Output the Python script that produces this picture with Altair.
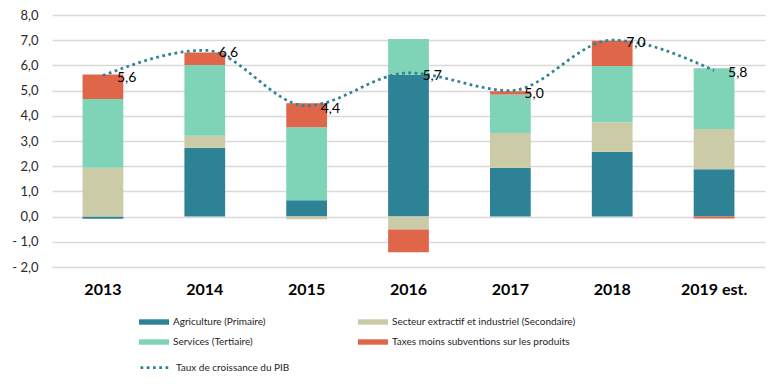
import altair as alt
import pandas as pd

years = ["2013", "2014", "2015", "2016", "2017", "2018", "2019 est."]
sectors = [
    "Agriculture (Primaire)",
    "Secteur extractif et industriel (Secondaire)",
    "Services (Tertiaire)",
    "Taxes moins subventions sur les produits",
]
agri = [-0.09, 2.73, 0.65, 5.63, 1.94, 2.57, 1.88]
secondaire = [1.94, 0.48, -0.11, -0.51, 1.38, 1.17, 1.60]
tertiaire = [2.73, 2.81, 2.90, 1.42, 1.53, 2.24, 2.41]
taxes = [0.97, 0.49, 0.95, -0.90, 0.12, 1.00, -0.08]
gdp = [5.6, 6.6, 4.4, 5.7, 5.0, 7.0, 5.8]
gdp_name = "Taux de croissance du PIB"
colors = ["#2E8296", "#CBCBA8", "#7FD3B7", "#E0664A"]
line_color = "#2E8296"

rows = []
for i, yr in enumerate(years):
    for k, vals in enumerate([agri, secondaire, tertiaire, taxes]):
        rows.append({"year": yr, "sector": sectors[k], "value": vals[i], "order": k})
bars_df = pd.DataFrame(rows)
gdp_df = pd.DataFrame({"year": years, "gdp": gdp, "series": [gdp_name] * len(years)})

FONT = "Lato"
TXT = "#1E1E1E"

x_enc = alt.X(
    "year:N", sort=years,
    scale=alt.Scale(paddingInner=0.6, paddingOuter=0.3),
    axis=alt.Axis(title=None, labelAngle=0, labelFont=FONT, labelFontWeight="bold",
                  labelFontSize=16, labelColor="#000000", labelPadding=14,
                  domain=False, ticks=False),
)
y_scale = alt.Scale(domain=[-2, 8], nice=False, zero=False)

label_expr = ("datum.value < 0 ? '- ' + replace(format(-datum.value, '.1f'), '.', ',') "
              ": replace(format(datum.value, '.1f'), '.', ',')")
y_axis = alt.Axis(title=None, values=list(range(-2, 9)), labelExpr=label_expr,
                  labelFont=FONT, labelFontSize=13, labelColor="#2A2A2A",
                  labelPadding=14, domain=False, ticks=False,
                  gridColor="#D9D9D9", gridWidth=1.5)

bars = alt.Chart(bars_df).mark_bar().encode(
    x=x_enc,
    y=alt.Y("value:Q", stack="zero", scale=y_scale, axis=y_axis),
    color=alt.Color("sector:N", sort=sectors,
                    scale=alt.Scale(domain=sectors, range=colors),
                    legend=alt.Legend(title=None, orient="none", legendX=87, legendY=292,
                                      columns=2, direction="horizontal",
                                      symbolType="M-1,-0.18H1V0.18H-1Z",
                                      symbolSize=900, symbolStrokeWidth=0,
                                      labelFont=FONT, labelFontSize=10, labelColor=TXT,
                                      labelLimit=400, columnPadding=92, rowPadding=-8,
                                      labelOffset=4)),
    order=alt.Order("order:Q"),
)

line = alt.Chart(gdp_df).mark_line(
    color=line_color, strokeWidth=2.75, interpolate="monotone"
).encode(
    x=alt.X("year:N", sort=years),
    y=alt.Y("gdp:Q", scale=y_scale, axis=y_axis),
    strokeDash=alt.StrokeDash("series:N",
                              scale=alt.Scale(domain=[gdp_name], range=[[2.75, 3.5]]),
                              legend=alt.Legend(title=None, orient="none", legendX=87, legendY=336,
                                                symbolSize=900, symbolStrokeWidth=2.75,
                                                labelFont=FONT, labelFontSize=10,
                                                labelColor=TXT, labelOffset=4,
                                                labelLimit=400)),
)

labels = alt.Chart(gdp_df).transform_calculate(
    lab="replace(format(datum.gdp, '.1f'), '.', ',')"
).mark_text(align="left", baseline="middle", dx=14, dy=3, font=FONT, fontSize=14,
            color="#000000").encode(
    x=alt.X("year:N", sort=years),
    y=alt.Y("gdp:Q", scale=y_scale, axis=y_axis),
    text="lab:N",
)

chart = alt.layer(bars, line, labels).properties(
    width=713, height=252,
    padding={"left": 44, "top": 7, "right": 7, "bottom": 109},
    autosize=alt.AutoSizeParams(type="none"),
).configure(background="white").configure_view(stroke=None)

chart.save("out.html", embed_options={"renderer": "svg", "actions": False})
